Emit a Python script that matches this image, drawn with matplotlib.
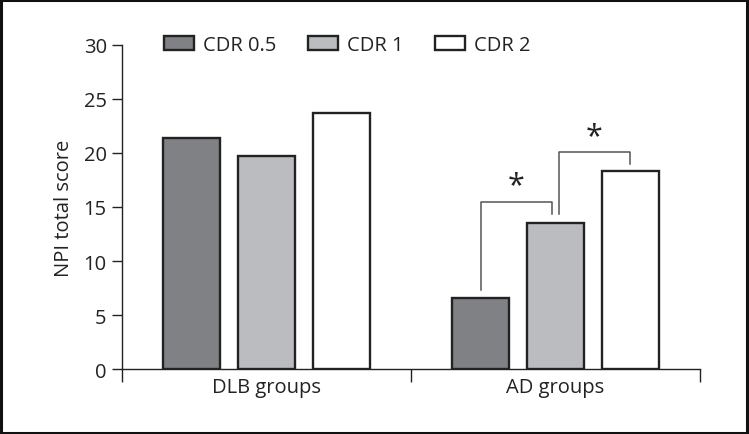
import matplotlib
matplotlib.use("Agg")
import matplotlib.pyplot as plt
from matplotlib.patches import Rectangle
import numpy as np

plt.rcParams['font.family'] = ['Open Sans', 'DejaVu Sans']

groups = ["DLB groups", "AD groups"]
series = ["CDR 0.5", "CDR 1", "CDR 2"]
values = {
    "CDR 0.5": [21.4, 6.6],
    "CDR 1": [19.7, 13.5],
    "CDR 2": [23.7, 18.3],
}
colors = ["#808185", "#bbbcbf", "#ffffff"]

FS = 14.5
fig = plt.figure(figsize=(7.49, 4.35), dpi=100)
ax = fig.add_axes([0.1629, 0.1494, 0.7717, 0.7449])

x = np.arange(len(groups))
offset = 0.258
width = 0.197
for i, s in enumerate(series):
    ax.bar(x + (i - 1) * offset, values[s], width=width, color=colors[i],
           edgecolor="#222222", linewidth=1.7, label=s, zorder=2)

ax.set_xlim(-0.5, 1.5)
ax.set_ylim(0, 30)
ax.set_yticks([0, 5, 10, 15, 20, 25, 30])
ax.tick_params(axis='y', labelsize=FS, length=7, width=1, pad=4, colors="#222222")
ax.set_xticks([-0.5, 0.5, 1.5])
ax.set_xticklabels([])
ax.tick_params(axis='x', length=9, width=1, direction='out', colors="#222222")
ax.set_xticks(x, minor=True)
ax.set_xticklabels(groups, minor=True, fontsize=FS, color="#222222")
ax.tick_params(axis='x', which='minor', length=0, pad=6)
for sp in ["top", "right"]:
    ax.spines[sp].set_visible(False)
for sp in ["left", "bottom"]:
    ax.spines[sp].set_linewidth(1)
    ax.spines[sp].set_color("#222222")
ax.set_ylabel("NPI total score", fontsize=FS, color="#222222", labelpad=7)

# significance brackets
bc = "#555555"
ad = 1
b0 = ad - offset
b1 = ad
b2 = ad + offset
ax.plot([b0, b0, b1 - 0.013, b1 - 0.013], [7.3, 15.5, 15.5, 14.35], color=bc, lw=1.1, zorder=3)
ax.text((b0 + b1 - 0.013) / 2, 15.6, "*", ha="center", va="bottom", fontsize=22, color="#222222")
ax.plot([b1 + 0.011, b1 + 0.011, b2, b2], [14.35, 20.1, 20.1, 19.0], color=bc, lw=1.1, zorder=3)
ax.text((b1 + 0.011 + b2) / 2, 20.2, "*", ha="center", va="bottom", fontsize=22, color="#222222")

leg = ax.legend(ncol=3, loc="center left", bbox_to_anchor=(0.0727, 1.0), frameon=False,
                fontsize=FS, handlelength=1.49, handleheight=0.75, handletextpad=0.45,
                columnspacing=1.55, borderaxespad=0, borderpad=0)
for t in leg.get_texts():
    t.set_color("#222222")

fig.patches.append(Rectangle((0.0015, 0.003), 0.996, 0.994, transform=fig.transFigure,
                             fill=False, edgecolor="#111111", linewidth=2.2))

fig.savefig("out.png", dpi=100)
